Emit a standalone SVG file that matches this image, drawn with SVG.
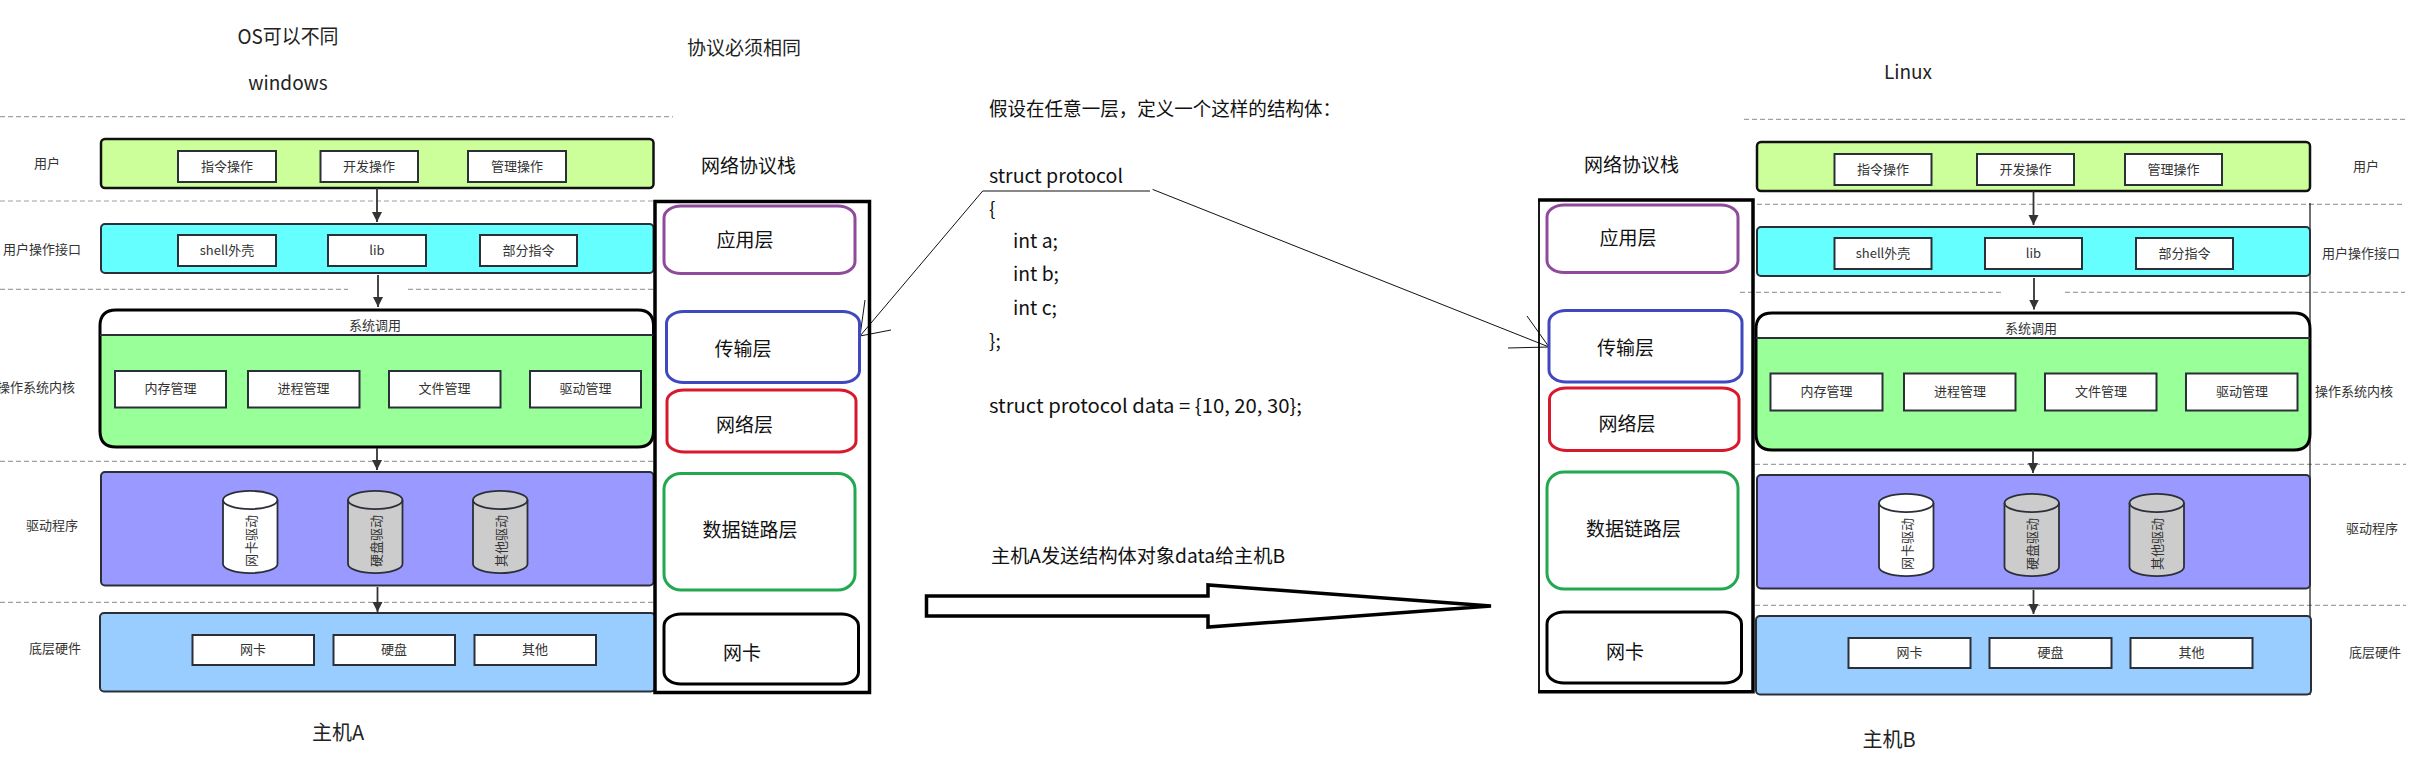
<svg xmlns="http://www.w3.org/2000/svg" width="2436" height="757" viewBox="0 0 2436 757">
<style>
text{font-family:"Noto Sans CJK SC","Noto Sans",sans-serif;text-anchor:middle;dominant-baseline:central;fill:#222}
text:not([transform]){transform:translateY(-1.2px)}
.s{font-size:13px;fill:#333}
.m{font-size:19px;fill:#111}
.c{font-size:19px;fill:#111;text-anchor:start}
.box{fill:#fff;stroke:#2b3038;stroke-width:2}
.lay{stroke:#2b3038;stroke-width:2}
.dash{stroke:#a0a0a0;stroke-width:1.2;stroke-dasharray:5 3;fill:none}
.cy{stroke:#2b3038;stroke-width:1.8}
.st{fill:#fff;stroke-width:3}
.thin{stroke:#111;stroke-width:1;fill:none}
.ar{stroke:#333;stroke-width:1.8;fill:none;marker-end:url(#ah)}
</style>
<defs>
<marker id="ah" markerUnits="userSpaceOnUse" markerWidth="11" markerHeight="16" refX="10" refY="8" viewBox="0 0 11 16" orient="auto-start-reverse"><path d="M0 3L10 8L0 13Z" fill="#333"/></marker>
</defs>
<rect width="2436" height="757" fill="#fff"/>
<g id="dashes">
<path class="dash" d="M0 116.700H673M0 201H655M0 289.300H348M408 289.300H653M0 461.300H655M0 602.300H655"/>
<path class="dash" d="M1744 119.300H2405M1757 204.300H2405M1740 292.300H2004M2065 292.300H2405M1755 464.300H2406M1755 605.300H2406"/>
<path d="M2310 203V695" stroke="#111" stroke-width="1.200"/>
</g>
<g id="titles">
<text x="288" y="37" style="font-size:20px" textLength="101" lengthAdjust="spacingAndGlyphs">OS可以不同</text>
<text x="288" y="83" style="font-size:19px">windows</text>
<text x="744" y="48" style="font-size:19px">协议必须相同</text>
<text x="1908" y="72" style="font-size:19px">Linux</text>
<text x="338" y="733" style="font-size:20px">主机A</text>
<text x="1889" y="740" style="font-size:20px">主机B</text>
</g>
<g id="labels-a" class="labels">
<text class="s" x="47" y="164">用户</text>
<text class="s" x="42" y="250">用户操作接口</text>
<text class="s" x="36" y="388">操作系统内核</text>
<text class="s" x="52" y="526">驱动程序</text>
<text class="s" x="55" y="649">底层硬件</text>
</g>
<g id="labels-b" class="labels">
<text class="s" x="2366" y="167">用户</text>
<text class="s" x="2361" y="254">用户操作接口</text>
<text class="s" x="2354" y="392">操作系统内核</text>
<text class="s" x="2372" y="529">驱动程序</text>
<text class="s" x="2375" y="653">底层硬件</text>
</g>

<g id="a-user">
<rect x="101" y="139" width="552.500" height="49" rx="4" fill="#CCFF99" stroke="#111" stroke-width="2.500"/>
<rect class="box" x="178" y="151" width="98" height="31"/><text class="s" x="227" y="166.500">指令操作</text>
<rect class="box" x="320.500" y="151" width="97.500" height="31"/><text class="s" x="369" y="166.500">开发操作</text>
<rect class="box" x="468" y="151" width="98" height="31"/><text class="s" x="517" y="166.500">管理操作</text>
</g>
<g id="a-api">
<rect class="lay" x="101" y="224" width="552.500" height="49" rx="4" fill="#66FFFF"/>
<rect class="box" x="178" y="235" width="98" height="31"/><text class="s" x="227" y="250.500">shell外壳</text>
<rect class="box" x="328" y="235" width="98" height="31"/><text class="s" x="377" y="250.500">lib</text>
<rect class="box" x="480" y="235" width="97" height="31"/><text class="s" x="528.500" y="250.500">部分指令</text>
</g>
<g id="a-kernel">
<path d="M100 335V326Q100 310 116 310H638Q653.500 310 653.500 326V335Z" fill="#fff"/>
<path d="M100 335H653.500V431Q653.500 447 638 447H116Q100 447 100 431Z" fill="#99FF99"/>
<path d="M100 431V326Q100 310 116 310H638Q653.500 310 653.500 326V431Q653.500 447 638 447H116Q100 447 100 431Z" fill="none" stroke="#000" stroke-width="3"/>
<path d="M100 335H653.500" stroke="#2b3038" stroke-width="2"/>
<text class="s" x="375" y="326" fill="#222">系统调用</text>
<rect class="box" x="115" y="371" width="111" height="36.500"/><text class="s" x="170.500" y="389">内存管理</text>
<rect class="box" x="248" y="371" width="111.500" height="36.500"/><text class="s" x="303.500" y="389">进程管理</text>
<rect class="box" x="389" y="371" width="111.500" height="36.500"/><text class="s" x="444.500" y="389">文件管理</text>
<rect class="box" x="530" y="371" width="111" height="36.500"/><text class="s" x="585.500" y="389">驱动管理</text>
</g>
<g id="a-driver">
<rect class="lay" x="101" y="472" width="552.500" height="113.500" rx="4" fill="#9999FF"/>
<path class="cy" fill="#fff" d="M223 500a27 9 0 0 1 54.500 0V564a27 9 0 0 1-54.500 0Z"/><path class="cy" fill="none" d="M223 500a27 9 0 0 0 54.500 0"/>
<text class="s" transform="translate(250 541) rotate(-90)">网卡驱动</text>
<path class="cy" fill="#ccc" d="M348 500a27 9 0 0 1 54.500 0V564a27 9 0 0 1-54.500 0Z"/><path class="cy" fill="none" d="M348 500a27 9 0 0 0 54.500 0"/>
<text class="s" transform="translate(375 541) rotate(-90)">硬盘驱动</text>
<path class="cy" fill="#ccc" d="M473 500a27 9 0 0 1 54.500 0V564a27 9 0 0 1-54.500 0Z"/><path class="cy" fill="none" d="M473 500a27 9 0 0 0 54.500 0"/>
<text class="s" transform="translate(500 541) rotate(-90)">其他驱动</text>
</g>
<g id="a-hw">
<rect class="lay" x="100" y="613" width="555" height="78.500" rx="4" fill="#99CCFF"/>
<rect class="box" x="192.500" y="635" width="121.500" height="30"/><text class="s" x="253" y="650">网卡</text>
<rect class="box" x="333.500" y="635" width="121.500" height="30"/><text class="s" x="394" y="650">硬盘</text>
<rect class="box" x="474.500" y="635" width="121.500" height="30"/><text class="s" x="535" y="650">其他</text>
</g>

<g id="b-user">
<rect x="1757" y="142" width="553" height="49" rx="4" fill="#CCFF99" stroke="#111" stroke-width="2.500"/>
<rect class="box" x="1834.500" y="154" width="97" height="31"/><text class="s" x="1883" y="169.500">指令操作</text>
<rect class="box" x="1977" y="154" width="97" height="31"/><text class="s" x="2025.500" y="169.500">开发操作</text>
<rect class="box" x="2125" y="154" width="97" height="31"/><text class="s" x="2173.500" y="169.500">管理操作</text>
</g>
<g id="b-api">
<rect class="lay" x="1757" y="227" width="553" height="49" rx="4" fill="#66FFFF"/>
<rect class="box" x="1834.500" y="238" width="97" height="31"/><text class="s" x="1883" y="253.500">shell外壳</text>
<rect class="box" x="1985" y="238" width="97" height="31"/><text class="s" x="2033.500" y="253.500">lib</text>
<rect class="box" x="2136" y="238" width="97" height="31"/><text class="s" x="2184.500" y="253.500">部分指令</text>
</g>
<g id="b-kernel">
<path d="M1756 338V329Q1756 313 1772 313H2294Q2310 313 2310 329V338Z" fill="#fff"/>
<path d="M1756 338H2310V434Q2310 450 2294 450H1772Q1756 450 1756 434Z" fill="#99FF99"/>
<path d="M1756 434V329Q1756 313 1772 313H2294Q2310 313 2310 329V434Q2310 450 2294 450H1772Q1756 450 1756 434Z" fill="none" stroke="#000" stroke-width="3"/>
<path d="M1756 338H2310" stroke="#2b3038" stroke-width="2"/>
<text class="s" x="2031" y="329" fill="#222">系统调用</text>
<rect class="box" x="1770.500" y="373.500" width="112" height="37"/><text class="s" x="1826.500" y="392">内存管理</text>
<rect class="box" x="1904" y="373.500" width="111.500" height="37"/><text class="s" x="1960" y="392">进程管理</text>
<rect class="box" x="2045" y="373.500" width="111.500" height="37"/><text class="s" x="2101" y="392">文件管理</text>
<rect class="box" x="2186" y="373.500" width="111.500" height="37"/><text class="s" x="2242" y="392">驱动管理</text>
</g>
<g id="b-driver">
<rect class="lay" x="1757" y="475" width="553" height="113.500" rx="4" fill="#9999FF"/>
<path class="cy" fill="#fff" d="M1879 503a27 9 0 0 1 54.500 0V567a27 9 0 0 1-54.500 0Z"/><path class="cy" fill="none" d="M1879 503a27 9 0 0 0 54.500 0"/>
<text class="s" transform="translate(1906 544) rotate(-90)">网卡驱动</text>
<path class="cy" fill="#ccc" d="M2004.500 503a27 9 0 0 1 54.500 0V567a27 9 0 0 1-54.500 0Z"/><path class="cy" fill="none" d="M2004.500 503a27 9 0 0 0 54.500 0"/>
<text class="s" transform="translate(2031.500 544) rotate(-90)">硬盘驱动</text>
<path class="cy" fill="#ccc" d="M2129.500 503a27 9 0 0 1 54.500 0V567a27 9 0 0 1-54.500 0Z"/><path class="cy" fill="none" d="M2129.500 503a27 9 0 0 0 54.500 0"/>
<text class="s" transform="translate(2156.500 544) rotate(-90)">其他驱动</text>
</g>
<g id="b-hw">
<rect class="lay" x="1756" y="616" width="555" height="78.500" rx="4" fill="#99CCFF"/>
<rect class="box" x="1848.500" y="638" width="122" height="30"/><text class="s" x="1909.500" y="653">网卡</text>
<rect class="box" x="1989.500" y="638" width="122" height="30"/><text class="s" x="2050.500" y="653">硬盘</text>
<rect class="box" x="2130.500" y="638" width="122" height="30"/><text class="s" x="2191.500" y="653">其他</text>
</g>

<g id="connectors">
<path class="ar" d="M377 188V222"/>
<path class="ar" d="M378 275V307"/>
<path class="ar" d="M377 448V470"/>
<path class="ar" d="M377.500 587V612"/>
<path class="ar" d="M2033.500 191V225"/>
<path class="ar" d="M2034 278V309.500"/>
<path class="ar" d="M2033 450V473"/>
<path class="ar" d="M2033.500 590V614"/>
<path class="thin" d="M1150 191H982.700L860 336M865 300L860 336L891 330"/>
<path class="thin" d="M1152.600 189.400L1549 347M1527 316L1549 347L1508 348"/>
</g>

<g id="stack-a">
<text class="m" x="748.500" y="166">网络协议栈</text>
<rect x="655" y="201.500" width="214.500" height="491" fill="none" stroke="#000" stroke-width="3.500"/>
<g id="a-app"><rect class="st" x="664" y="206" width="191" height="67.500" rx="17" ry="12" stroke="#8f4a9c"/><text class="m" x="745" y="240">应用层</text></g>
<g id="a-trans"><rect class="st" x="666.500" y="311.500" width="193" height="71" rx="17" ry="12" stroke="#3f48bf"/><text class="m" x="743" y="349">传输层</text></g>
<g id="a-net"><rect class="st" x="667" y="390" width="189" height="62" rx="17" ry="11" stroke="#d8182c"/><text class="m" x="744.500" y="424.500">网络层</text></g>
<g id="a-link"><rect class="st" x="664" y="473.500" width="191" height="116.500" rx="17" ry="16" stroke="#22a850"/><text class="m" x="750" y="529.500">数据链路层</text></g>
<g id="a-nic"><rect class="st" x="664" y="614" width="194.500" height="70" rx="17" ry="12" stroke="#000" stroke-width="3.500"/><text class="m" x="742" y="652.500">网卡</text></g>
</g>
<g id="stack-b">
<text class="m" x="1631.500" y="165">网络协议栈</text>
<path d="M1539 200V691.700" stroke="#000" stroke-width="1.800"/>
<path d="M1538 200H1753V691.700H1538" fill="none" stroke="#000" stroke-width="3.500"/>
<g id="b-app"><rect class="st" x="1547" y="205" width="191" height="67.500" rx="17" ry="12" stroke="#8f4a9c"/><text class="m" x="1628" y="238">应用层</text></g>
<g id="b-trans"><rect class="st" x="1549" y="310.500" width="193" height="71.500" rx="17" ry="12" stroke="#3f48bf"/><text class="m" x="1625.500" y="348">传输层</text></g>
<g id="b-net"><rect class="st" x="1549.500" y="388" width="189.500" height="62.500" rx="17" ry="11" stroke="#d8182c"/><text class="m" x="1627" y="424">网络层</text></g>
<g id="b-link"><rect class="st" x="1547" y="472" width="191" height="117" rx="17" ry="16" stroke="#22a850"/><text class="m" x="1633.500" y="528.500">数据链路层</text></g>
<g id="b-nic"><rect class="st" x="1547" y="612" width="194.500" height="71" rx="17" ry="12" stroke="#000" stroke-width="3.500"/><text class="m" x="1625" y="652">网卡</text></g>
</g>

<g id="code">
<text class="c" x="989" y="108.500" textLength="352" lengthAdjust="spacingAndGlyphs">假设在任意一层，定义一个这样的结构体：</text>
<text class="c" x="989" y="176" textLength="134" lengthAdjust="spacingAndGlyphs">struct protocol</text>
<text class="c" x="989" y="209">{</text>
<text class="c" x="1013" y="241" textLength="45" lengthAdjust="spacingAndGlyphs">int a;</text>
<text class="c" x="1013" y="274" textLength="46" lengthAdjust="spacingAndGlyphs">int b;</text>
<text class="c" x="1013" y="308" textLength="44" lengthAdjust="spacingAndGlyphs">int c;</text>
<text class="c" x="989" y="341">};</text>
<text class="c" x="989" y="406" textLength="313" lengthAdjust="spacingAndGlyphs">struct protocol data = {10, 20, 30};</text>
<text class="c" x="991" y="556" textLength="294" lengthAdjust="spacingAndGlyphs">主机A发送结构体对象data给主机B</text>
</g>
<g id="big-arrow">
<path d="M926.500 596H1208V585L1491 606L1208 627V616H926.500Z" fill="#fff" stroke="#000" stroke-width="3.500"/>
</g>
</svg>
